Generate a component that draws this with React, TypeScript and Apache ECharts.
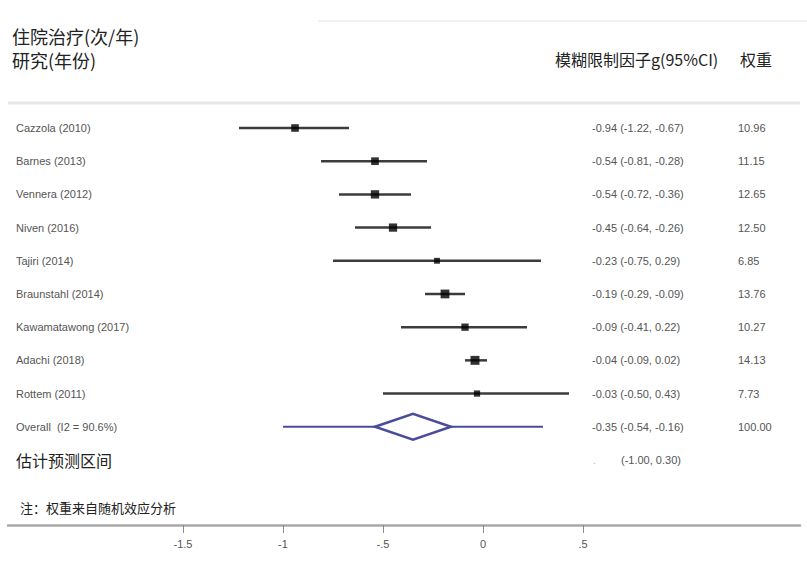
import React, { useEffect, useRef } from "react";
import * as echarts from "echarts";

const STUDIES = [
  "Cazzola (2010)",
  "Barnes (2013)",
  "Vennera (2012)",
  "Niven (2016)",
  "Tajiri (2014)",
  "Braunstahl (2014)",
  "Kawamatawong (2017)",
  "Adachi (2018)",
  "Rottem (2011)",
];
const EST = [-0.94, -0.54, -0.54, -0.45, -0.23, -0.19, -0.09, -0.04, -0.03];
const LOW = [-1.22, -0.81, -0.72, -0.64, -0.75, -0.29, -0.41, -0.09, -0.5];
const HIGH = [-0.67, -0.28, -0.36, -0.26, 0.29, -0.09, 0.22, 0.02, 0.43];
const WEIGHT = [10.96, 11.15, 12.65, 12.5, 6.85, 13.76, 10.27, 14.13, 7.73];

const OVERALL_LABEL = "Overall  (I2 = 90.6%)";
const OVERALL = { est: -0.35, low: -0.54, high: -0.16, weight: 100.0 };
const PRED_LABEL = "估计预测区间";
const PRED = { low: -1.0, high: 0.3 };

const TICK_VALUES = [-1.5, -1, -0.5, 0, 0.5];
const TICK_LABELS = ["-1.5", "-1", "-.5", "0", ".5"];

const TITLE_1 = "住院治疗(次/年)";
const TITLE_2 = "研究(年份)";
const HEADER_CI = "模糊限制因子g(95%CI)";
const HEADER_W = "权重";
const NOTE = "注：权重来自随机效应分析";

const f2 = (v: number) => v.toFixed(2);
const LATIN = '"Liberation Sans", Arial, sans-serif';
const CJK = '"Noto Sans CJK SC", "Noto Sans", sans-serif';

export default function App() {
  const ref = useRef<HTMLDivElement>(null);
  useEffect(() => {
    if (!ref.current) return;
    const chart = echarts.init(ref.current, null, { renderer: "svg" });
    const n = STUDIES.length;
    const overallRow = n;
    const predRow = n + 1;

    const rows = STUDIES.map((s, i) => ({
      label: s,
      ci: `${f2(EST[i])} (${f2(LOW[i])}, ${f2(HIGH[i])})`,
      w: f2(WEIGHT[i]),
    }));
    rows.push({
      label: OVERALL_LABEL,
      ci: `${f2(OVERALL.est)} (${f2(OVERALL.low)}, ${f2(OVERALL.high)})`,
      w: f2(OVERALL.weight),
    });

    const option: any = {
      animation: false,
      backgroundColor: "#ffffff",
      grid: { left: 8, right: 7, top: 103, bottom: 39, containLabel: false },
      xAxis: {
        type: "value",
        min: -2.375,
        max: 1.585,
        splitLine: { show: false },
        axisLine: { show: true, onZero: false, lineStyle: { color: "#a8a8a8", width: 2.5 } },
        axisTick: {
          show: true,
          customValues: TICK_VALUES,
          length: 8,
          lineStyle: { color: "#8a8a8a", width: 1 },
        },
        axisLabel: {
          customValues: TICK_VALUES,
          margin: 13,
          color: "#555",
          fontSize: 11,
          fontFamily: LATIN,
          formatter: (v: number) => {
            const k = TICK_VALUES.findIndex((t) => Math.abs(t - v) < 1e-9);
            return k >= 0 ? TICK_LABELS[k] : "";
          },
        },
      },
      yAxis: {
        type: "value",
        inverse: true,
        min: -0.753,
        max: 11.96,
        show: false,
      },
      graphic: [
        { type: "line", shape: { x1: 318, y1: 21, x2: 807, y2: 21 }, style: { stroke: "#e2e2e2", lineWidth: 1 } },
        { type: "line", shape: { x1: 8, y1: 103, x2: 800, y2: 103 }, style: { stroke: "#e6e8e8", lineWidth: 3 } },
        { type: "text", x: 12, y: 36, style: { text: TITLE_1, font: `18px ${CJK}`, fill: "#222", verticalAlign: "middle" } },
        { type: "text", x: 12, y: 60, style: { text: TITLE_2, font: `18px ${CJK}`, fill: "#222", verticalAlign: "middle" } },
        { type: "text", x: 555, y: 59, style: { text: HEADER_CI, font: `16px ${CJK}`, fill: "#222", verticalAlign: "middle" } },
        { type: "text", x: 740, y: 59, style: { text: HEADER_W, font: `16px ${CJK}`, fill: "#222", verticalAlign: "middle" } },
        { type: "text", x: 20, y: 507, style: { text: NOTE, font: `13px ${CJK}`, fill: "#222", verticalAlign: "middle" } },
      ],
      series: [
        {
          type: "custom",
          name: "ci",
          coordinateSystem: "cartesian2d",
          data: STUDIES.map((_, i) => [LOW[i], HIGH[i], i]),
          encode: { x: [0, 1], y: 2 },
          renderItem: (params: any, api: any) => {
            const a = api.coord([api.value(0), api.value(2)]);
            const b = api.coord([api.value(1), api.value(2)]);
            return {
              type: "line",
              shape: { x1: a[0], y1: a[1], x2: b[0], y2: b[1] },
              style: { stroke: "#3c3c3c", lineWidth: 2.5 },
            };
          },
          z: 2,
        },
        {
          type: "scatter",
          name: "est",
          data: STUDIES.map((_, i) => [EST[i], i, WEIGHT[i]]),
          symbol: "rect",
          symbolSize: (v: number[]) => 3 + v[2] * 0.42,
          itemStyle: { color: "#000" },
          z: 3,
        },
        {
          type: "custom",
          name: "overall",
          coordinateSystem: "cartesian2d",
          data: [[OVERALL.est, OVERALL.low, OVERALL.high, PRED.low, PRED.high, overallRow]],
          encode: { x: [1, 2, 3, 4], y: 5 },
          renderItem: (params: any, api: any) => {
            const r = api.value(5);
            const c = api.coord([api.value(0), r]);
            const lo = api.coord([api.value(1), r]);
            const hi = api.coord([api.value(2), r]);
            const pl = api.coord([api.value(3), r]);
            const ph = api.coord([api.value(4), r]);
            const col = "#4b4b9b";
            return {
              type: "group",
              children: [
                {
                  type: "line",
                  shape: { x1: pl[0], y1: pl[1], x2: ph[0], y2: ph[1] },
                  style: { stroke: col, lineWidth: 2 },
                },
                {
                  type: "polygon",
                  shape: {
                    points: [
                      [lo[0], lo[1]],
                      [c[0], c[1] - 13],
                      [hi[0], hi[1]],
                      [c[0], c[1] + 13],
                    ],
                  },
                  style: { fill: "#fff", stroke: col, lineWidth: 2.5 },
                },
              ],
            };
          },
          z: 2,
        },
        {
          type: "custom",
          name: "texts",
          coordinateSystem: "cartesian2d",
          data: rows.map((_, i) => [0, i]),
          encode: { x: 0, y: 1 },
          renderItem: (params: any, api: any) => {
            const i = api.value(1);
            const y = api.coord([0, i])[1];
            const row = rows[i];
            const base = { font: `11px ${LATIN}`, fill: "#555", verticalAlign: "middle" };
            return {
              type: "group",
              children: [
                { type: "text", x: 16, y, style: { ...base, text: row.label } },
                { type: "text", x: 592, y, style: { ...base, text: row.ci } },
                { type: "text", x: 738, y, style: { ...base, text: row.w } },
              ],
            };
          },
          z: 4,
        },
        {
          type: "custom",
          name: "pred",
          coordinateSystem: "cartesian2d",
          data: [[PRED.low, PRED.high, predRow]],
          encode: { x: [0, 1], y: 2 },
          renderItem: (params: any, api: any) => {
            const y = api.coord([0, api.value(2)])[1];
            return {
              type: "group",
              children: [
                { type: "text", x: 16, y, style: { text: PRED_LABEL, font: `16px ${CJK}`, fill: "#222", verticalAlign: "middle" } },
                { type: "text", x: 593, y, style: { text: ".", font: `11px ${LATIN}`, fill: "#bbb", verticalAlign: "middle" } },
                {
                  type: "text",
                  x: 621,
                  y,
                  style: {
                    text: `(${f2(api.value(0))}, ${f2(api.value(1))})`,
                    font: `11px ${LATIN}`,
                    fill: "#555",
                    verticalAlign: "middle",
                  },
                },
              ],
            };
          },
          z: 4,
        },
      ],
    };
    chart.setOption(option);
    return () => chart.dispose();
  }, []);
  return (
    <div
      ref={ref}
      style={{ position: "absolute", left: 0, top: 0, width: 807, height: 564, background: "#fff" }}
    />
  );
}
